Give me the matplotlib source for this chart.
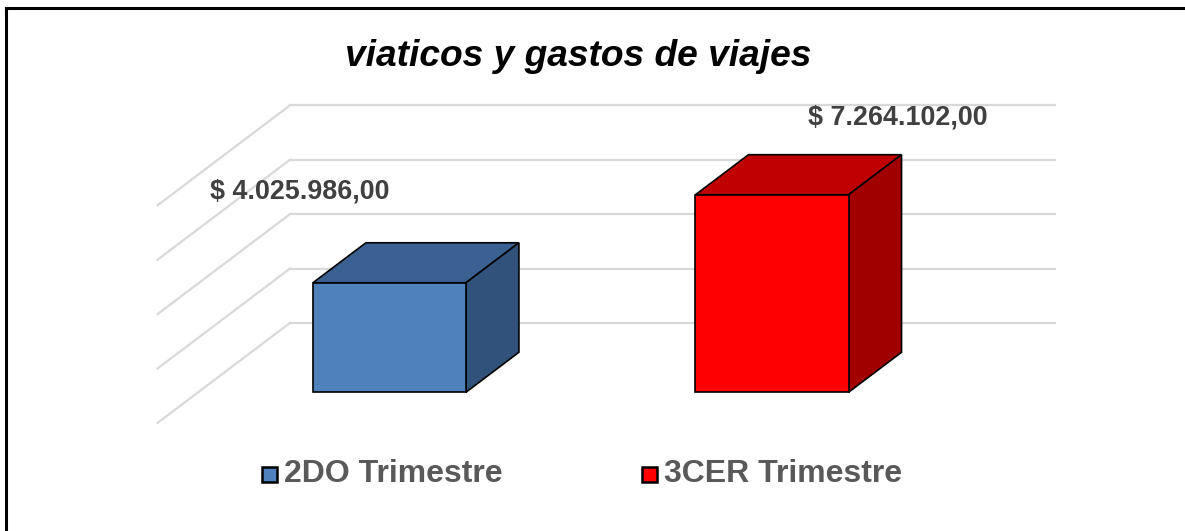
import matplotlib
matplotlib.use("Agg")
import matplotlib.pyplot as plt
from matplotlib.patches import Polygon, Rectangle
from matplotlib.lines import Line2D

# ---- data ----
title = "viaticos y gastos de viajes"
categories = ["2DO Trimestre", "3CER Trimestre"]
values = [4025986.00, 7264102.00]
value_labels = ["$ 4.025.986,00", "$ 7.264.102,00"]
grid_ticks = [0, 2000000, 4000000, 6000000, 8000000]

# ---- style ----
front_colors = ["#4F81BD", "#FF0000"]
top_colors = ["#3B6192", "#C00000"]
side_colors = ["#30527B", "#A00000"]
grid_color = "#D9D9D9"
label_color = "#404040"
legend_color = "#595959"

W, H, DPI = 1185, 531, 100
fig = plt.figure(figsize=(W / DPI, H / DPI), dpi=DPI)
fig.patch.set_facecolor("white")
ax = fig.add_axes([0, 0, 1, 1])
ax.axis("off")

# layout of the front plane (pixels)
x0_px, step_px = 389.4, 382.6          # centre of first category, category spacing
y0_px, px_per_unit = 392.3, 54.4 / 2e6  # baseline (from top), pixels per value unit
ax.set_xlim((0 - x0_px) / step_px, (W - x0_px) / step_px)
ax.set_ylim(-(H - y0_px) / px_per_unit, y0_px / px_per_unit)

fig.canvas.draw()
inv = ax.transData.inverted()
origin = ax.transData.transform((0, 0))


def depth(t):
    """data offset for an oblique depth of t pixels"""
    p = inv.transform(origin + [t, 0.755 * t])
    return p[0], p[1]


bar_w = 0.40
bar_depth = 53
wall_depth = 91.8
floor_front = -40.5

# gridlines: back wall + left side wall
wdx, wdy = depth(wall_depth)
fdx, fdy = depth(floor_front)
xl, xr = -0.5, len(categories) - 0.5
for g in grid_ticks:
    ax.add_line(Line2D([xl + wdx, xr + wdx], [g + wdy, g + wdy],
                       color=grid_color, lw=1.6, zorder=1))
    ax.add_line(Line2D([xl + fdx, xl + wdx], [g + fdy, g + wdy],
                       color=grid_color, lw=1.6, zorder=1))

# bars
xs = list(range(len(categories)))
ax.bar(xs, values, width=bar_w, color=front_colors, edgecolor="black",
       linewidth=1.2, zorder=5)
bdx, bdy = depth(bar_depth)
for x, v, tc, sc in zip(xs, values, top_colors, side_colors):
    l, r = x - bar_w / 2, x + bar_w / 2
    top = [(l, v), (r, v), (r + bdx, v + bdy), (l + bdx, v + bdy)]
    side = [(r, 0), (r + bdx, bdy), (r + bdx, v + bdy), (r, v)]
    ax.add_patch(Polygon(top, closed=True, facecolor=tc, edgecolor="black",
                         lw=1.2, zorder=4))
    ax.add_patch(Polygon(side, closed=True, facecolor=sc, edgecolor="black",
                         lw=1.2, zorder=4))

# data labels
label_offsets = [(-90, 91), (126, 77)]
for x, v, lab, off in zip(xs, values, value_labels, label_offsets):
    ax.annotate(lab, (x, v), xytext=off, textcoords="offset pixels",
                ha="center", va="center", fontsize=19.4, fontweight="bold",
                family="Liberation Sans", color=label_color, zorder=6)

# title
fig.text(578.5 / W, 1 - 56 / H, title, ha="center", va="center",
         fontsize=26.7, fontweight="bold", fontstyle="italic",
         family="Liberation Sans", color="black")

# legend (manual)
leg_sq = [(262, 467), (642, 467)]
for (sx, sy), c, name in zip(leg_sq, front_colors, categories):
    fig.patches.append(Rectangle((sx / W, 1 - (sy + 15) / H), 15 / W, 15 / H,
                                 transform=fig.transFigure, facecolor=c,
                                 edgecolor="black", lw=1.8, zorder=5))
    fig.text((sx + 22) / W, 1 - 474.5 / H, name, ha="left", va="center",
             fontsize=23, fontweight="bold", family="Liberation Sans",
             color=legend_color)

# frame lines (top and left)
fig.lines.append(Line2D([6 / W, 1], [1 - 8 / H, 1 - 8 / H],
                        transform=fig.transFigure, color="black", lw=2.2))
fig.lines.append(Line2D([6 / W, 6 / W], [0, 1 - 8 / H],
                        transform=fig.transFigure, color="black", lw=2.2))

fig.savefig("out.png", dpi=DPI)
